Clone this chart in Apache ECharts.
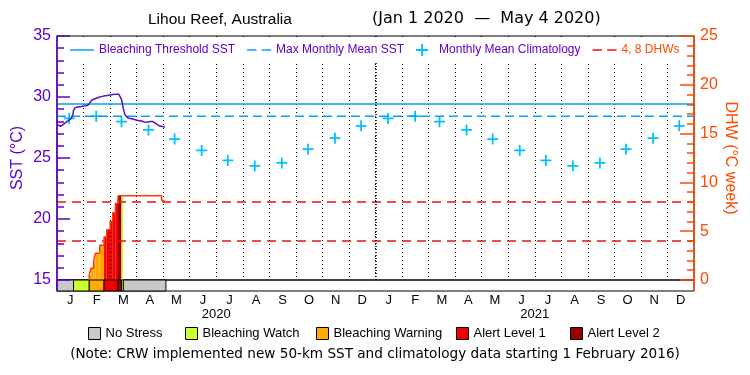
<!DOCTYPE html>
<html>
<head>
<meta charset="utf-8">
<script src="https://cdn.jsdelivr.net/npm/echarts@6/dist/echarts.min.js"></script>
<style>html,body{margin:0;padding:0;background:#fff}#c{width:750px;height:375px}</style>
</head>
<body>
<div id="c"></div>
<script>
// ---------------- data (x = day index from Jan 1 2020) ----------------
const monthLabels = ['J','F','M','A','M','J','J','A','S','O','N','D','J','F','M','A','M','J','J','A','S','O','N','D'];
const yearLabels = ['2020','2021'];
const periodDays = 731;            // Jan 1 2020 .. Jan 1 2022
const yearBoundaryDay = 366;       // Jan 1 2021

const sstDay = [0,2,4,6,8,10,12,14,16,18,19,21,24,28,32,36,38,40,42,45,48,52,55,58,61,64,68,71,73,74,75,76,77,78,79,81,84,87,90,93,97,101,104,107,110,112,114,116,118,120,122,124];
const sstVal = [27.75,27.72,27.6,27.62,27.8,27.92,28.02,28.12,28.22,28.5,28.9,29.15,29.18,29.22,29.28,29.35,29.5,29.75,29.85,29.9,29.98,30.05,30.1,30.12,30.17,30.2,30.22,30.22,30.1,29.8,29.45,29.1,28.8,28.55,28.4,28.3,28.24,28.2,28.13,28.07,28.03,27.92,27.96,28.0,27.99,27.9,27.8,27.68,27.62,27.58,27.56,27.55];

const bleachingThreshold = 29.43;
const maxMonthlyMean = 28.43;

const climDay = [14,45,74,105,135,166,196,227,258,288,319,349,380,411,439,470,500,531,561,592,623,653,684,714];
const climVal = [28.24,28.43,27.98,27.3,26.55,25.62,24.8,24.35,24.6,25.72,26.62,27.64,
                 28.24,28.43,27.98,27.3,26.55,25.62,24.8,24.35,24.6,25.72,26.62,27.64];

const dhwLines = [4, 8];
const dhwDay   = [37,39,42,44,49,54,57,61,64,67,70,74,76,120,122];
const dhwVal   = [0.5,1.2,1.9,2.75,3.57,4.4,5.15,6.0,6.9,7.85,8.63,8.63,8.63,8.2,8.05];
const dhwLevel = [2,2,2,2,2,3,3,3,3,3,4,1,0,0,0];   // 0 = no fill
const dhwLastDay = 124;

const stressStart = [0,19,37,54,70,74,76];
const stressEnd   = [19,37,54,70,74,76,125];
const stressLevel = [0,1,2,3,4,1,0];
const levelNames = ['No Stress','Bleaching Watch','Bleaching Warning','Alert Level 1','Alert Level 2'];
const levelLegendLeft = [88,185,316,456,570];

// ---------------- styles ----------------
const FONT = 'Liberation Sans';
const WIDEFONT = 'DejaVu Sans';
const PURPLE = '#6000c8';
const ORANGE = '#ff4a00';
const BLUE = '#0aa0f0';
const CYAN = '#00c0ff';
const RED = '#f01010';
const levelColors = ['#c8c8c8','#ccff33','#ffaa00','#f00000','#990000'];
const plusPath = 'path://M4.2,0h1.6v10h-1.6z M0,4.2h10v1.6h-10z';
const solidIcon = 'path://M0,0h24v1.5h-24z';
const dashIcon = 'path://M0,0h9v1.5h-9z M14,0h9v1.5h-9z';

// ---------------- build ----------------
const sstData = sstDay.map((d,i)=>[d, sstVal[i]]);
const climData = climDay.map((d,i)=>[d, climVal[i]]);
const dhwLineData = [[dhwDay[0],0]].concat(dhwDay.map((d,i)=>[d, dhwVal[i]])).concat([[dhwLastDay, dhwVal[dhwVal.length-1]]]);
const dhwFillData = [];
dhwDay.forEach((d,i)=>{
  const end = i < dhwDay.length-1 ? dhwDay[i+1] : dhwLastDay;
  if (dhwLevel[i] > 0) dhwFillData.push([d, end, dhwVal[i], dhwLevel[i]]);
});

function rectRender(params, api){
  const x0 = api.value(0), x1 = api.value(1), v = api.value(2), lv = api.value(3);
  const p0 = api.coord([x0, v]), p1 = api.coord([x1, 0]);
  return {type:'rect', shape:{x:p0[0], y:p0[1], width:p1[0]-p0[0], height:p1[1]-p0[1]},
          style:{fill: levelColors[lv]}};
}
function bandRender(params, api){
  const x0 = api.value(0), x1 = api.value(1), lv = api.value(2);
  const p0 = api.coord([x0, 1]), p1 = api.coord([x1, 0]);
  return {type:'rect', shape:{x:p0[0], y:p0[1], width:p1[0]-p0[0], height:p1[1]-p0[1]},
          style:{fill: levelColors[lv], stroke:'#000', lineWidth:1}};
}

const stressSeries = levelNames.map((name, lv)=>{
  const data = [];
  stressLevel.forEach((l,i)=>{ if (l === lv) data.push([stressStart[i], stressEnd[i], lv]); });
  return {name, type:'custom', xAxisIndex:2, yAxisIndex:2, renderItem: bandRender,
          itemStyle:{color: levelColors[lv]}, encode:{x:[0,1], y:2}, data, silent:true, z:3};
});

const bottomLegends = levelNames.map((name, i)=>({
  left: levelLegendLeft[i], top:327, padding:0, itemWidth:12, itemHeight:12, icon:'rect',
  itemStyle:{borderColor:'#000', borderWidth:1},
  textStyle:{fontSize:13, fontFamily:FONT, color:'#000'},
  data:[name], selectedMode:false
}));

const option = {
  animation:false,
  backgroundColor:'#fff',
  textStyle:{fontFamily:FONT},
  title:[
    {text:'Lihou Reef, Australia', left:148, top:12, padding:0, textStyle:{fontSize:15.5, fontWeight:'normal', color:'#000', fontFamily:FONT}},
    {text:'(Jan 1 2020  \u2014  May 4 2020)', left:372, top:11, padding:0, textStyle:{fontSize:16, fontWeight:'normal', color:'#000', fontFamily:WIDEFONT}},
    {text:'(Note: CRW implemented new 50-km SST and climatology data starting 1 February 2016)', left:'center', top:347, padding:0,
     textStyle:{fontSize:13.6, fontWeight:'normal', color:'#000', fontFamily:WIDEFONT}}
  ],
  legend:[
    {left:65, top:38, padding:[6,6,6,5], itemWidth:24, itemHeight:12, itemGap:12,
     backgroundColor:'#fff', z:6,
     textStyle:{fontSize:12, fontFamily:FONT, color:PURPLE},
     data:[
       {name:'Bleaching Threshold SST', icon:solidIcon, textStyle:{color:PURPLE}},
       {name:'Max Monthly Mean SST', icon:dashIcon, textStyle:{color:PURPLE}},
       {name:'Monthly Mean Climatology', textStyle:{color:PURPLE}},
       {name:'4, 8 DHWs', icon:dashIcon, textStyle:{color:ORANGE}}
     ], selectedMode:false}
  ].concat(bottomLegends),
  grid:[
    {left:57, right:56, top:36, height:244, show:true, borderColor:'#000', borderWidth:1, backgroundColor:'transparent'},
    {left:57, right:56, top:280, height:11, show:true, borderColor:'#000', borderWidth:1, backgroundColor:'transparent'}
  ],
  xAxis:[
    {type:'value', gridIndex:0, min:0, max:periodDays, show:false},
    {type:'category', gridIndex:0, data:monthLabels, boundaryGap:true, position:'bottom', z:3,
     axisLine:{show:false, onZero:false}, axisTick:{show:false, interval:0}, axisLabel:{show:false},
     splitLine:{show:true, interval:0, lineStyle:{color:'#000', width:1, type:[1,3]}}},
    {type:'value', gridIndex:1, min:0, max:periodDays, show:false},
    {type:'category', gridIndex:1, data:monthLabels, boundaryGap:true, position:'bottom',
     axisLine:{show:false, onZero:false}, axisTick:{show:false}, splitLine:{show:false},
     axisLabel:{interval:0, color:'#000', fontSize:13, margin:3, fontFamily:FONT}},
    {type:'category', gridIndex:1, data:yearLabels, boundaryGap:true, position:'bottom', offset:14,
     axisLine:{show:false, onZero:false}, axisTick:{show:false}, splitLine:{show:false},
     axisLabel:{interval:0, color:'#000', fontSize:13, margin:3, fontFamily:FONT}}
  ],
  yAxis:[
    {type:'value', gridIndex:0, position:'left', min:15, max:35, interval:5, z:5,
     axisLine:{show:true, onZero:false, lineStyle:{color:PURPLE, width:1.5}},
     axisTick:{show:true, inside:true, length:13, lineStyle:{color:PURPLE, width:1.5}},
     minorTick:{show:true, splitNumber:5, length:7, lineStyle:{color:PURPLE, width:1.5}},
     axisLabel:{color:PURPLE, fontSize:16, margin:6, fontFamily:FONT},
     splitLine:{show:false},
     name:'SST (\u00B0C)', nameLocation:'middle', nameGap:31, nameMoveOverlap:false,
     nameTextStyle:{color:PURPLE, fontSize:16, fontFamily:FONT}},
    {type:'value', gridIndex:0, position:'right', min:0, max:25, interval:5, z:5,
     axisLine:{show:true, onZero:false, lineStyle:{color:ORANGE, width:1.5}},
     axisTick:{show:true, inside:true, length:14, lineStyle:{color:ORANGE, width:1.5}},
     minorTick:{show:true, splitNumber:5, length:7, lineStyle:{color:ORANGE, width:1.5}},
     axisLabel:{color:ORANGE, fontSize:16, margin:6, fontFamily:FONT},
     splitLine:{show:false},
     name:'DHW (\u00B0C week)', nameLocation:'middle', nameGap:28, nameRotate:-90, nameMoveOverlap:false,
     nameTextStyle:{color:ORANGE, fontSize:16, fontFamily:FONT}},
    {type:'value', gridIndex:1, position:'left', min:0, max:1, z:5,
     axisLine:{show:true, onZero:false, lineStyle:{color:PURPLE, width:1.5}},
     axisTick:{show:false}, axisLabel:{show:false}, splitLine:{show:false}},
    {type:'value', gridIndex:1, position:'right', min:0, max:1, z:5,
     axisLine:{show:true, onZero:false, lineStyle:{color:ORANGE, width:1.5}},
     axisTick:{show:false}, axisLabel:{show:false}, splitLine:{show:false}}
  ],
  series:[
    {name:'DHW fill', type:'custom', xAxisIndex:0, yAxisIndex:1, renderItem:rectRender,
     encode:{x:[0,1], y:2}, data:dhwFillData, silent:true, z:1},
    {name:'Bleaching Threshold SST', type:'line', xAxisIndex:0, yAxisIndex:0, symbol:'none', silent:true,
     lineStyle:{color:BLUE, width:1.5}, itemStyle:{color:BLUE},
     data:[[0,bleachingThreshold],[periodDays,bleachingThreshold]]},
    {name:'Max Monthly Mean SST', type:'line', xAxisIndex:0, yAxisIndex:0, symbol:'none', silent:true,
     lineStyle:{color:BLUE, width:1.5, type:[9,5]}, itemStyle:{color:BLUE},
     data:[[0,maxMonthlyMean],[periodDays,maxMonthlyMean]]},
    {name:'Monthly Mean Climatology', type:'scatter', xAxisIndex:0, yAxisIndex:0, symbol:plusPath, symbolSize:11,
     itemStyle:{color:CYAN, opacity:1}, data:climData, silent:true,
     markLine:{silent:true, symbol:['none','none'], label:{show:false},
               lineStyle:{color:'#000', width:1.5, type:[1,2]}, data:[{xAxis:yearBoundaryDay}]}},
    {name:'4, 8 DHWs', type:'line', xAxisIndex:0, yAxisIndex:1, symbol:'none', silent:true,
     lineStyle:{color:RED, width:1.5, type:[9,6]}, itemStyle:{color:RED},
     data:[[0,dhwLines[0]],[periodDays,dhwLines[0]]]},
    {name:'4, 8 DHWs', type:'line', xAxisIndex:0, yAxisIndex:1, symbol:'none', silent:true,
     lineStyle:{color:RED, width:1.5, type:[9,6]}, itemStyle:{color:RED},
     data:[[0,dhwLines[1]],[periodDays,dhwLines[1]]]},
    {name:'DHW', type:'line', xAxisIndex:0, yAxisIndex:1, symbol:'none', step:'end', silent:true,
     lineStyle:{color:'#ff3c00', width:1.5}, itemStyle:{color:'#ff3c00'}, data:dhwLineData, z:3},
    {name:'SST', type:'line', xAxisIndex:0, yAxisIndex:0, symbol:'none', silent:true,
     lineStyle:{color:'#5a10c0', width:1.5}, itemStyle:{color:'#5a10c0'}, data:sstData, z:4}
  ].concat(stressSeries)
};

const chart = echarts.init(document.getElementById('c'), null, {renderer:'canvas'});
chart.setOption(option);
</script>
</body>
</html>
